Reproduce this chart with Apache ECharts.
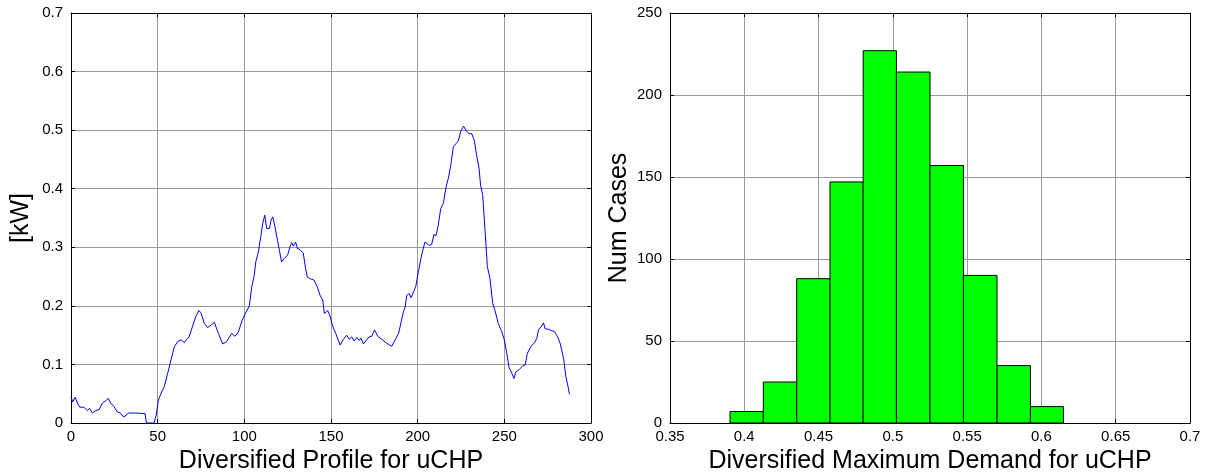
<!DOCTYPE html>
<html>
<head>
<meta charset="utf-8">
<script src="https://cdn.jsdelivr.net/npm/echarts@6/dist/echarts.min.js"></script>
<style>
html,body{margin:0;padding:0;background:#fff;}
#c{width:1208px;height:474px;}
</style>
</head>
<body>
<div id="c"></div>
<script>
// ---- Left chart: diversified profile (x = sample index, y = kW) ----
const profileX = [0,1,2.4,3.7,5,7.5,9.4,10.8,11.7,12.3,14.2,16.2,18.1,20,21.5,22.9,24.8,26.7,28.6,30,31.5,33.1,37.3,42.7,43.5,47.9,49.2,50.4,52.3,53.8,55.8,57.7,59.6,61.5,63.5,65.4,66.7,68.1,70,71.9,73.8,75,76.9,78.8,80.8,82.7,85,87.5,89.8,92.7,94.6,96.5,98.8,100.4,101.4,102.9,104.3,105.6,106.6,108.1,109.5,110.6,111.8,112.9,114.5,115.4,116.4,117.7,119.1,120.2,121.5,123.1,125,126.4,127.3,128.3,129.6,130.6,132.1,134,135,136.3,138.3,140.2,142.1,143.7,145.2,146.2,148.1,149.4,150.8,152.7,155.3,157.2,159.1,160.5,162,163.3,164.9,166.2,167.3,168.7,170.6,172,173.5,175.1,177,179.7,182.2,185.1,187,189,190.5,191.8,192.8,193.7,195.1,196.2,197.6,198.9,200.4,202.3,204.2,205.2,206.7,208.1,209.4,210.6,211.9,213.3,214.8,216.4,217.7,219.1,220.6,222.1,223.5,224.8,226.4,227.9,229.6,231.2,232.7,234,235.4,236.3,237.5,238.8,240.2,241.7,243.3,244.6,246.5,248.5,250,251.4,252.7,254.3,255.6,256.6,258.5,260.5,262,263.3,265.4,267.4,268.7,269.7,271.2,272.6,273.5,275.4,277,279,280.9,282.3,284.2,285.5,286.7,287.6];
const profileY = [0.045,0.036,0.044,0.034,0.027,0.027,0.021,0.025,0.028,0.017,0.021,0.023,0.034,0.038,0.042,0.034,0.028,0.019,0.017,0.011,0.012,0.017,0.017,0.016,0,0,0.014,0.039,0.053,0.062,0.085,0.108,0.130,0.139,0.142,0.137,0.143,0.147,0.164,0.181,0.192,0.188,0.170,0.163,0.167,0.172,0.153,0.135,0.139,0.153,0.148,0.155,0.176,0.186,0.188,0.200,0.233,0.250,0.275,0.292,0.318,0.341,0.355,0.332,0.332,0.346,0.352,0.335,0.312,0.295,0.275,0.281,0.287,0.301,0.308,0.302,0.309,0.298,0.296,0.290,0.270,0.249,0.246,0.244,0.232,0.218,0.210,0.187,0.192,0.183,0.167,0.153,0.133,0.143,0.150,0.143,0.147,0.140,0.146,0.141,0.145,0.135,0.142,0.147,0.148,0.159,0.148,0.142,0.136,0.131,0.142,0.153,0.173,0.190,0.198,0.218,0.221,0.214,0.224,0.233,0.258,0.287,0.309,0.310,0.303,0.305,0.322,0.320,0.338,0.366,0.375,0.403,0.418,0.440,0.472,0.477,0.482,0.497,0.507,0.500,0.494,0.494,0.482,0.457,0.435,0.406,0.390,0.332,0.267,0.247,0.204,0.192,0.170,0.156,0.142,0.119,0.095,0.085,0.076,0.087,0.091,0.097,0.099,0.119,0.131,0.137,0.144,0.159,0.164,0.171,0.161,0.160,0.158,0.156,0.146,0.135,0.110,0.079,0.063,0.049];

// ---- Right chart: histogram of diversified maximum demand ----
const binEdges = [0.3904,0.4128,0.4353,0.4577,0.4800,0.5024,0.5250,0.5475,0.5701,0.5926,0.6148];
const binCounts = [7,25,88,147,227,214,157,90,35,10];

// ---- Axis texts ----
const leftXName = 'Diversified Profile for uCHP';
const leftYName = '[kW]';
const rightXName = 'Diversified Maximum Demand for uCHP';
const rightYName = 'Num Cases';

const profileData = profileX.map((x, i) => [x, profileY[i]]);
const histData = binCounts.map((c, i) => [binEdges[i], binEdges[i + 1], c]);

const FONT = 'Liberation Sans, Arial, sans-serif';
const gridLine = { show: true, lineStyle: { color: '#9a9a9a', width: 1 } };
const axisLine = { show: true, onZero: false, lineStyle: { color: '#000', width: 1 } };
const tickIn = { show: true, inside: true, length: 4, lineStyle: { color: '#000' } };
const lbl = { color: '#000', fontSize: 15, fontFamily: FONT };
const nameStyle = { color: '#000', fontSize: 25, fontFamily: FONT };

function mainX(grid, min, max, interval, name, fmt) {
  return {
    type: 'value', gridIndex: grid, min, max, interval, position: 'bottom',
    name, nameLocation: 'middle', nameGap: 24, nameTextStyle: nameStyle,
    axisLine, axisTick: tickIn, splitLine: gridLine,
    axisLabel: Object.assign({ margin: 6, formatter: fmt }, lbl)
  };
}
function topX(grid, min, max, interval) {
  return {
    type: 'value', gridIndex: grid, min, max, interval, position: 'top',
    axisLine, axisTick: tickIn, splitLine: { show: false }, axisLabel: { show: false }
  };
}
function mainY(grid, min, max, interval, name, gap) {
  return {
    type: 'value', gridIndex: grid, min, max, interval, position: 'left',
    name, nameLocation: 'middle', nameGap: gap, nameTextStyle: nameStyle,
    axisLine, axisTick: tickIn, splitLine: gridLine,
    axisLabel: Object.assign({ margin: 8 }, lbl)
  };
}
function rightY(grid, min, max, interval) {
  return {
    type: 'value', gridIndex: grid, min, max, interval, position: 'right',
    axisLine, axisTick: tickIn, splitLine: { show: false }, axisLabel: { show: false }
  };
}

const chart = echarts.init(document.getElementById('c'), null, { renderer: 'canvas' });
chart.setOption({
  backgroundColor: '#fff',
  animation: false,
  grid: [
    { left: 71, top: 13, right: 617, bottom: 51, containLabel: false, outerBoundsMode: 'none' },
    { left: 670, top: 13, right: 18, bottom: 51, containLabel: false, outerBoundsMode: 'none' }
  ],
  xAxis: [
    mainX(0, 0, 300, 50, leftXName),
    topX(0, 0, 300, 50),
    mainX(1, 0.35, 0.7, 0.05, rightXName, v => +v.toFixed(2) + ''),
    topX(1, 0.35, 0.7, 0.05)
  ],
  yAxis: [
    mainY(0, 0, 0.7, 0.1, leftYName, 37),
    rightY(0, 0, 0.7, 0.1),
    mainY(1, 0, 250, 50, rightYName, 38),
    rightY(1, 0, 250, 50)
  ],
  series: [
    {
      type: 'line', xAxisIndex: 0, yAxisIndex: 0, data: profileData,
      showSymbol: false, symbol: 'none', smooth: false,
      lineStyle: { color: '#0000ff', width: 1 }, z: 5
    },
    {
      type: 'custom', xAxisIndex: 2, yAxisIndex: 2, data: histData,
      encode: { x: [0, 1], y: 2 },
      renderItem: function (params, api) {
        const p0 = api.coord([api.value(0), api.value(2)]);
        const p1 = api.coord([api.value(1), 0]);
        return {
          type: 'rect',
          shape: { x: p0[0], y: p0[1], width: p1[0] - p0[0], height: p1[1] - p0[1] },
          style: { fill: '#00ff00', stroke: '#000', lineWidth: 1 }
        };
      }, z: 5
    }
  ]
});
</script>
</body>
</html>
